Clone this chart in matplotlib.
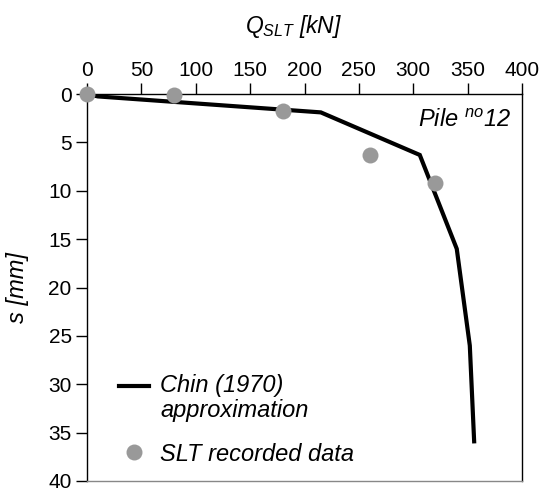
import matplotlib
matplotlib.use("Agg")
import numpy as np
import matplotlib.pyplot as plt
from matplotlib.legend_handler import HandlerLine2D

plt.rcParams['font.family'] = ['Liberation Sans', 'DejaVu Sans']
plt.rcParams['mathtext.fontset'] = 'custom'
plt.rcParams['mathtext.rm'] = 'Liberation Sans:italic'
plt.rcParams['mathtext.it'] = 'Liberation Sans:italic'
plt.rcParams['mathtext.bf'] = 'Liberation Sans:bold:italic'

# Chin (1970) hyperbolic approximation, sampled as a polyline
chin_q = [0, 10, 215, 306, 340, 352, 356]
chin_s = [0, 0.25, 1.9, 6.3, 16.0, 26.0, 35.9]

# Static load test recorded points
slt_q = [0, 80, 180, 260, 320]
slt_s = [0, 0.1, 1.8, 6.3, 9.2]

x_ticks = [0, 50, 100, 150, 200, 250, 300, 350, 400]
y_ticks = [0, 5, 10, 15, 20, 25, 30, 35, 40]


class FirstLineHandler(HandlerLine2D):
    """Places the legend key level with the first line of a two-line label."""
    def create_artists(self, legend, orig_handle, xdescent, ydescent,
                       width, height, fontsize, trans):
        artists = super().create_artists(legend, orig_handle, xdescent, ydescent,
                                         width, height, fontsize, trans)
        for a in artists:
            a.set_ydata(np.asarray(a.get_ydata(), dtype=float) + 0.55 * fontsize)
        return artists


fig = plt.figure(figsize=(5.45, 4.92), dpi=100)
ax = fig.add_axes([87/545, 1 - 481/492, (522-87)/545, (481-94)/492])

chin_line, = ax.plot(chin_q, chin_s, color='black', lw=3,
                     label='Chin (1970)\napproximation',
                     solid_joinstyle='miter', zorder=2)
ax.plot(slt_q, slt_s, 'o', color='#999999', ms=11.5, mec='none',
        label='SLT recorded data', zorder=3, clip_on=False)

ax.set_xlim(0, 400)
ax.set_ylim(40, 0)
ax.set_xticks(x_ticks)
ax.set_yticks(y_ticks)
ax.xaxis.tick_top()
ax.xaxis.set_label_position('top')
ax.tick_params(axis='both', direction='out', length=8, width=1, labelsize=15,
               colors='black', pad=3)
ax.tick_params(axis='x', pad=2)

ax.set_xlabel(r'$Q_{SLT}$ [kN]', fontsize=16.5, style='italic', labelpad=20)
ax.xaxis.label.set_x(0.476)
ax.set_ylabel('s [mm]', fontsize=17, style='italic', labelpad=14)

for side in ['top', 'left', 'right']:
    ax.spines[side].set_color('black')
    ax.spines[side].set_linewidth(1)
ax.spines['bottom'].set_color('#888888')
ax.spines['bottom'].set_linewidth(1)

ax.text(0.975, 0.96, 'Pile $^{no}$12', transform=ax.transAxes, ha='right', va='top',
        fontsize=17, style='italic')

leg = ax.legend(loc='lower left', bbox_to_anchor=(0.025, -0.015), frameon=False,
                handlelength=1.25, labelspacing=0.85, handletextpad=0.5,
                prop={'style': 'italic', 'size': 17},
                handler_map={chin_line: FirstLineHandler()})
for t in leg.get_texts():
    t.set_linespacing(1.15)

fig.savefig('out.png', dpi=100)
